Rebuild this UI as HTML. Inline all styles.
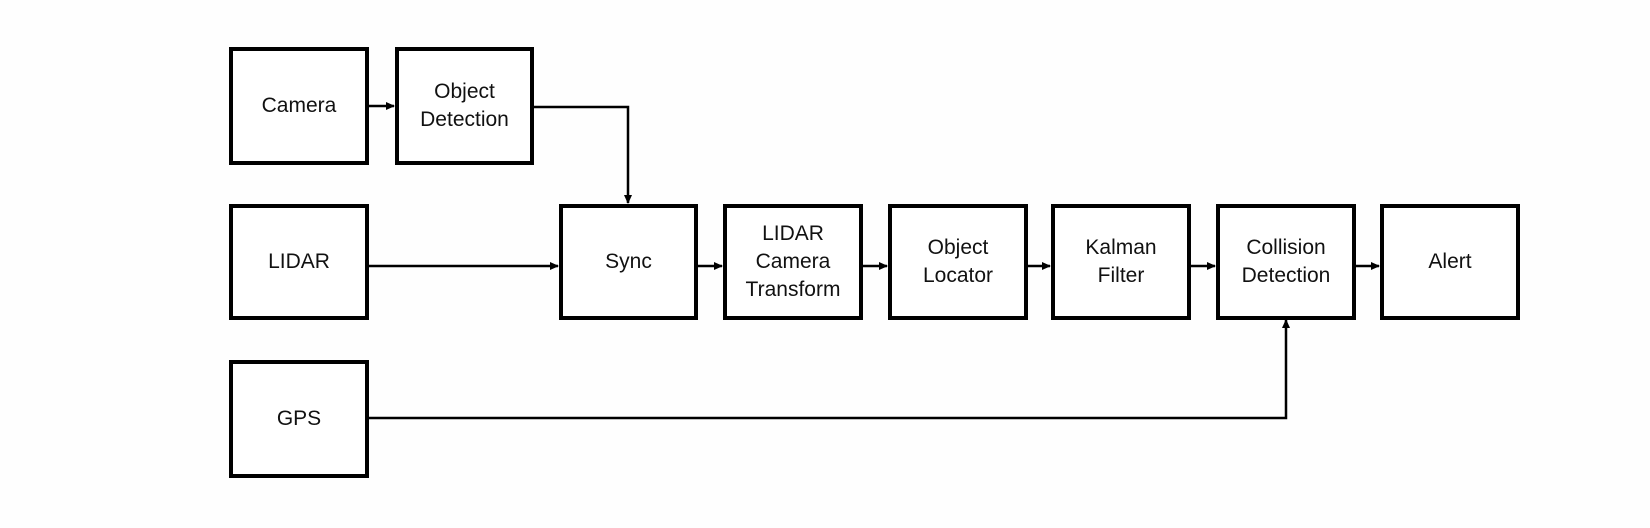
<!DOCTYPE html>
<html><head><style>
html,body{margin:0;padding:0;background:#fefefe;}
body{width:1650px;height:528px;position:relative;overflow:hidden;font-family:"Liberation Sans",sans-serif;}
.b{position:absolute;box-sizing:border-box;border:4px solid #000;background:#fff;display:flex;align-items:center;justify-content:center;text-align:center;font-size:21px;line-height:28px;color:#111;}
</style></head><body>
<svg width="1650" height="528" style="position:absolute;left:0;top:0">
<defs><marker id="a" markerWidth="10" markerHeight="10" refX="8" refY="5" orient="auto" markerUnits="userSpaceOnUse"><path d="M0,1 L9,5 L0,9 Z" fill="#000"/></marker></defs>
<g stroke="#000" stroke-width="2.5" fill="none">
<line x1="368" y1="106" x2="394" y2="106" marker-end="url(#a)"/>
<polyline points="533,107 628,107 628,203" marker-end="url(#a)"/>
<line x1="319" y1="266" x2="558" y2="266" marker-end="url(#a)"/>
<line x1="697" y1="266" x2="722" y2="266" marker-end="url(#a)"/>
<line x1="862" y1="266" x2="887" y2="266" marker-end="url(#a)"/>
<line x1="1027" y1="266" x2="1050" y2="266" marker-end="url(#a)"/>
<line x1="1190" y1="266" x2="1215" y2="266" marker-end="url(#a)"/>
<line x1="1355" y1="266" x2="1379" y2="266" marker-end="url(#a)"/>
<polyline points="368,418 1286,418 1286,320" marker-end="url(#a)"/>
</g></svg>
<div class="b" style="left:229px;top:47px;width:140px;height:118px">Camera</div>
<div class="b" style="left:395px;top:47px;width:139px;height:118px">Object<br>Detection</div>
<div class="b" style="left:229px;top:204px;width:140px;height:116px">LIDAR</div>
<div class="b" style="left:559px;top:204px;width:139px;height:116px">Sync</div>
<div class="b" style="left:723px;top:204px;width:140px;height:116px">LIDAR<br>Camera<br>Transform</div>
<div class="b" style="left:888px;top:204px;width:140px;height:116px">Object<br>Locator</div>
<div class="b" style="left:1051px;top:204px;width:140px;height:116px">Kalman<br>Filter</div>
<div class="b" style="left:1216px;top:204px;width:140px;height:116px">Collision<br>Detection</div>
<div class="b" style="left:1380px;top:204px;width:140px;height:116px">Alert</div>
<div class="b" style="left:229px;top:360px;width:140px;height:118px">GPS</div>
</body></html>
